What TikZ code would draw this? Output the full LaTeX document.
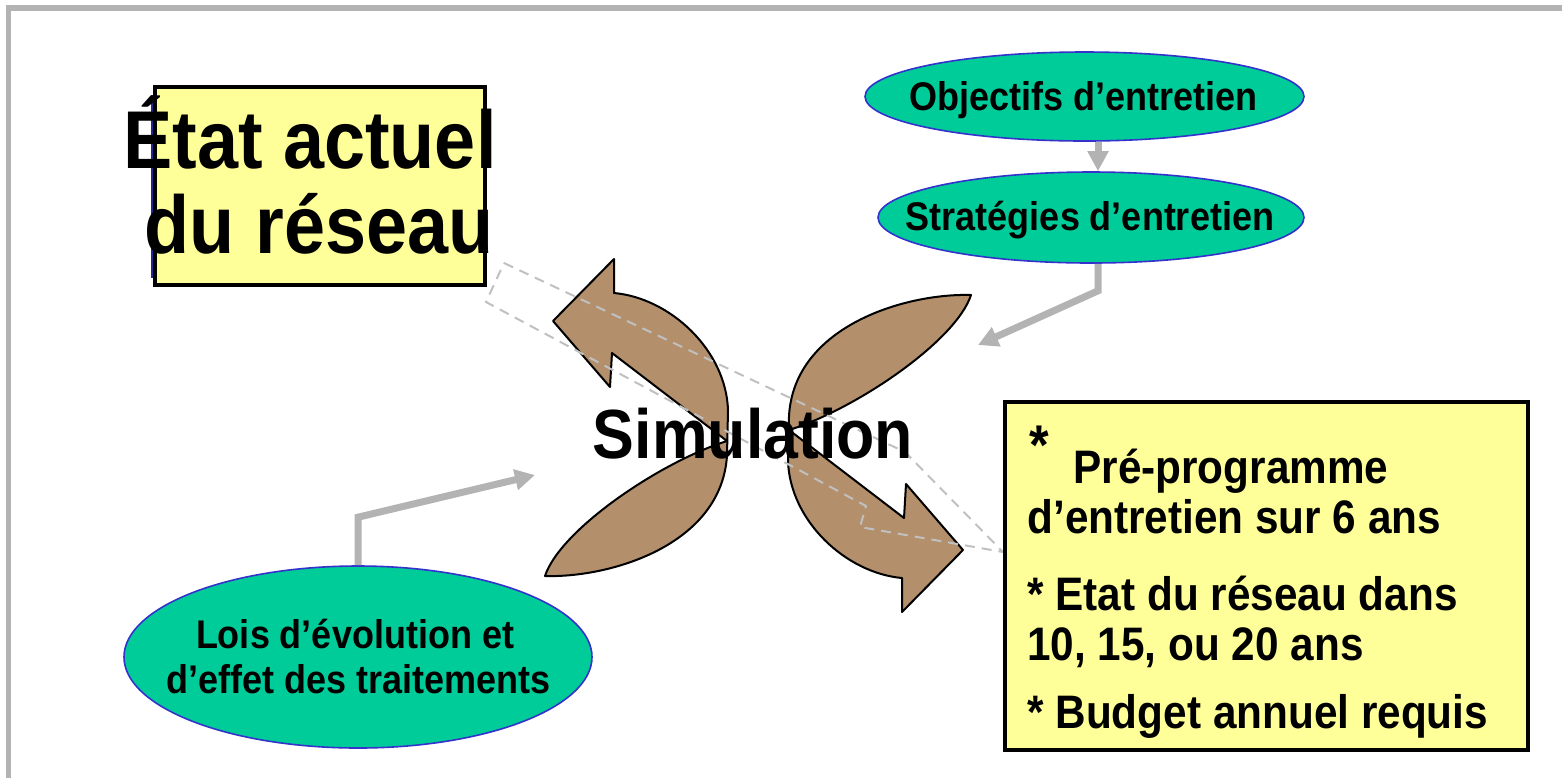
\documentclass[tikz,border=0pt]{standalone}
\usepackage{fontspec}
\setmainfont{Liberation Sans}[FakeStretch=0.9]
\usetikzlibrary{shapes.geometric,arrows.meta}
\definecolor{framegray}{HTML}{B3B3B3}
\definecolor{ellfill}{HTML}{00CC99}
\definecolor{ellline}{HTML}{3333CC}
\definecolor{boxfill}{HTML}{FFFF99}
\definecolor{brownfill}{HTML}{B38F6B}
\definecolor{conngray}{HTML}{B3B3B3}
\definecolor{dashgray}{HTML}{C0C0C0}
\begin{document}
\begin{tikzpicture}[x=0.5pt,y=-0.5pt,
  ell/.style={ellipse, draw=ellline, line width=0.8pt, fill=ellfill, inner sep=0pt},
  etxt/.style={font=\bfseries\fontsize{20}{24}\selectfont, inner sep=0pt, anchor=base},
  btxt/.style={font=\bfseries\fontsize{23.5}{28}\selectfont, inner sep=0pt, anchor=base west},
  htxt/.style={font=\bfseries\fontsize{41}{48}\selectfont, inner sep=0pt, anchor=base},
  ybox/.style={rectangle, draw=black, line width=2.2pt, fill=boxfill, inner sep=0pt},
  conn/.style={draw=conngray, line width=3.5pt, line join=miter, -{Triangle[width=10pt,length=10pt]}},
  leaf/.style={fill=brownfill, draw=black, line width=1pt, line join=round},
  sel/.style={draw=dashgray, line width=1pt, dash pattern=on 5pt off 3.5pt}]
\useasboundingbox (0,0) rectangle (1562,778);
% frame
\fill[framegray] (6,5) rectangle (1562,11);
\fill[framegray] (6,5) rectangle (11,778);
% Etat box
\draw[ellline!70!black, line width=0.6pt] (152,95) -- (152,278);
\node[ybox, minimum width=165pt, minimum height=99pt] (etat) at (320,186) {};
\node[htxt] (etat1) at (310,168) {État actuel};
\node[htxt] (etat2) at (319,253) {du réseau};
% ellipses
\node[ell, minimum width=219.5pt, minimum height=44.5pt] (obj) at (1084.5,96.5) {};
\node[etxt] (objt) at (1083.5,110) {Objectifs d’entretien};
\node[ell, minimum width=213pt, minimum height=45.5pt] (strat) at (1091,217.5) {};
\node[etxt] (stratt) at (1090,230) {Stratégies d’entretien};
\node[ell, minimum width=234pt, minimum height=91pt] (lois) at (358,657) {};
\node[etxt] (lois1) at (355,648) {Lois d’évolution et};
\node[etxt] (lois2) at (358.5,693) {d’effet des traitements};
% connectors
\coordinate (cx) at (1098,0);
\coordinate (simR) at (978,345);
\coordinate (simL) at (535,475);
\draw[conn] (obj.south -| cx) -- (strat.north -| cx);
\draw[conn] (strat.south -| cx) -- ++(0,27) -- (simR);
\draw[conn] (lois.north) -- ++(0,-48) -- (simL);
% curved arrows
\path[leaf] (545,576) .. controls (560,530) and (660,462) .. (727,441)
  -- (612,353) -- (610,387) -- (553,321) -- (614,259) -- (614,293)
  .. controls (670,298) and (726,350) .. (728,410)
  -- (727,455) .. controls (722,545) and (610,578) .. (545,576) -- cycle;
\begin{scope}[rotate around={180:(758,435.5)}]
\path[leaf] (545,576) .. controls (560,530) and (660,462) .. (727,441)
  -- (612,353) -- (610,387) -- (553,321) -- (614,259) -- (614,293)
  .. controls (670,298) and (726,350) .. (728,410)
  -- (727,455) .. controls (722,545) and (610,578) .. (545,576) -- cycle;
\end{scope}
% dashed selection outline
\draw[sel] (504,263) -- (905,452) -- (1003,552) -- (860,527) -- (866,506) -- (486,302) -- cycle;
\node[font=\bfseries\fontsize{34.8}{40}\selectfont, inner sep=0pt, anchor=base] (sim) at (753,458) {Simulation};
% results box
\node[ybox, minimum width=261.5pt, minimum height=174pt] (res) at (1266.5,576) {};
\node[font=\bfseries\fontsize{28}{32}\selectfont, inner sep=0pt, anchor=base west] (star) at (1029,464) {*};
\node[btxt] (r1) at (1073,483) {Pré-programme};
\node[btxt] (r2) at (1027,533) {d’entretien sur 6 ans};
\node[btxt] (r3) at (1027,610) {* Etat du réseau dans};
\node[btxt] (r4) at (1027,660) {10, 15, ou 20 ans};
\node[btxt] (r5) at (1027,728) {* Budget annuel requis};
\end{tikzpicture}
\end{document}
